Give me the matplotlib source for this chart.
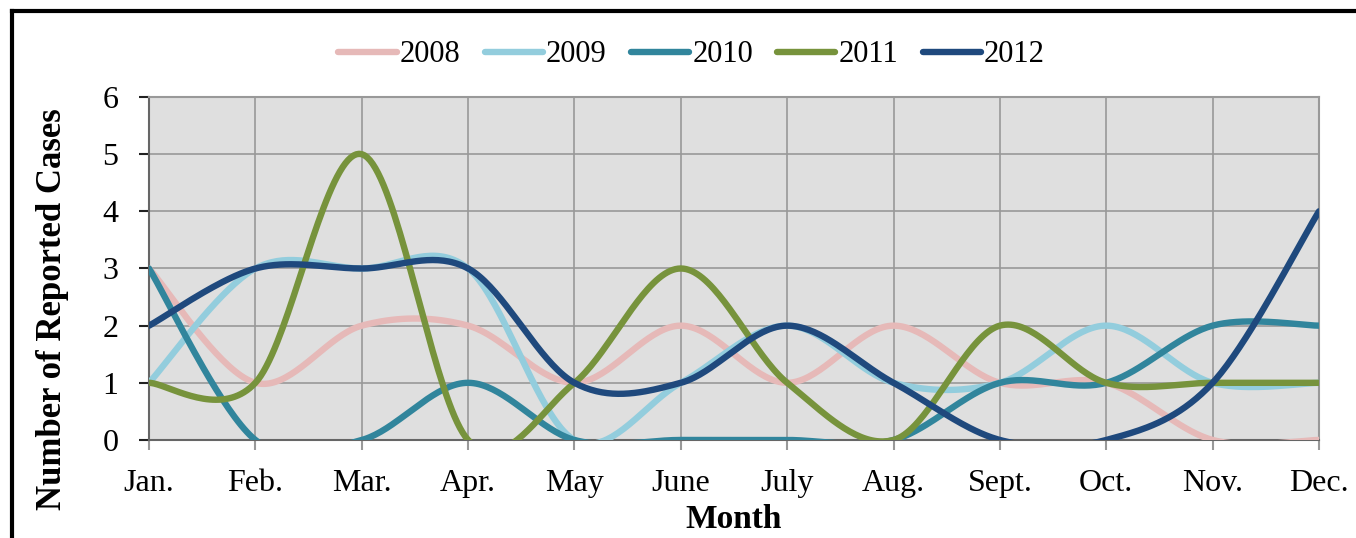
import numpy as np
import matplotlib.pyplot as plt
from matplotlib.lines import Line2D

plt.rcParams['font.family'] = ['Liberation Serif', 'DejaVu Serif']

# Data
months = ['Jan.', 'Feb.', 'Mar.', 'Apr.', 'May', 'June', 'July', 'Aug.',
          'Sept.', 'Oct.', 'Nov.', 'Dec.']
cases_2008 = [3, 1, 2, 2, 1, 2, 1, 2, 1, 1, 0, 0]
cases_2009 = [1, 3, 3, 3, 0, 1, 2, 1, 1, 2, 1, 1]
cases_2010 = [3, 0, 0, 1, 0, 0, 0, 0, 1, 1, 2, 2]
cases_2011 = [1, 1, 5, 0, 1, 3, 1, 0, 2, 1, 1, 1]
cases_2012 = [2, 3, 3, 3, 1, 1, 2, 1, 0, 0, 1, 4]
years = ['2008', '2009', '2010', '2011', '2012']
colors = ['#E6B9B8', '#93CDDD', '#31859C', '#77933C', '#1F497D']


def smooth(y, n=40):
    """Excel-style smoothed line: cubic Bezier with 1/6 tangents."""
    y = np.asarray(y, float)
    x = np.arange(len(y), dtype=float)
    xs, ys = [], []
    for i in range(len(y) - 1):
        i0, i3 = max(i - 1, 0), min(i + 2, len(y) - 1)
        p0 = np.array([x[i], y[i]])
        p3 = np.array([x[i + 1], y[i + 1]])
        c1 = p0 + (p3 - np.array([x[i0], y[i0]])) / 6.0
        c2 = p3 - (np.array([x[i3], y[i3]]) - p0) / 6.0
        t = np.linspace(0, 1, n)[:, None]
        pts = ((1 - t) ** 3 * p0 + 3 * (1 - t) ** 2 * t * c1
               + 3 * (1 - t) * t ** 2 * c2 + t ** 3 * p3)
        xs.append(pts[:, 0])
        ys.append(pts[:, 1])
    return np.concatenate(xs), np.concatenate(ys)


fig = plt.figure(figsize=(13.56, 5.38), dpi=100)
ax = fig.add_axes([0.1099, 0.1822, 0.8628, 0.6375])
ax.set_facecolor('#DFDFDF')

series = [cases_2008, cases_2009, cases_2010, cases_2011, cases_2012]
for vals, c, lab in zip(series, colors, years):
    sx, sy = smooth(vals)
    ax.plot(sx, sy, color=c, lw=4.6, solid_capstyle='round', label=lab, zorder=3)

ax.set_xlim(0, 11)
ax.set_ylim(0, 6)
ax.set_xticks(range(12))
ax.set_xticklabels(months)
ax.set_yticks(range(7))
ax.grid(True, color='#999999', lw=1.2, zorder=1)
ax.set_axisbelow(True)
for s in ['top', 'right']:
    ax.spines[s].set_color('#999999')
    ax.spines[s].set_linewidth(1.5)
for s in ['left', 'bottom']:
    ax.spines[s].set_color('#666666')
    ax.spines[s].set_linewidth(1.5)
ax.tick_params(axis='x', direction='out', length=7, width=1.5, color='#999999',
               labelsize=23, pad=14)
ax.tick_params(axis='y', direction='out', length=7, width=1.5, color='#222222',
               labelsize=23, pad=15)

ax.set_xlabel('Month', fontsize=24, fontweight='bold', labelpad=4)
ax.set_ylabel('Number of Reported Cases', fontsize=25, fontweight='bold')
ax.yaxis.set_label_coords(-0.068, 0.382)

handles = [Line2D([], [], color=c, lw=4.6, solid_capstyle='round') for c in colors]
fig.legend(handles, years, loc='center', bbox_to_anchor=(0.51, 0.898),
           ncol=5, frameon=False, fontsize=22, handlelength=1.9,
           handletextpad=0.1, columnspacing=0.8)

# figure frame (left and top edges)
fig.add_artist(Line2D([0.009, 0.009], [0, 0.98], color='black', lw=3,
                      transform=fig.transFigure))
fig.add_artist(Line2D([0.009, 1.0], [0.98, 0.98], color='black', lw=3,
                      transform=fig.transFigure))

fig.savefig('out.png', dpi=100)
